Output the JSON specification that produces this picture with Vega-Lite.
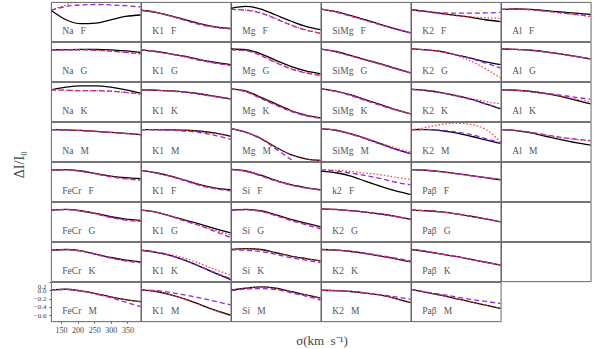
{
  "$schema": "https://vega.github.io/schema/vega-lite/v6.json",
  "background": "white",
  "padding": {"left": 12, "top": 1, "right": 0, "bottom": 0},
  "config": {
    "view": {"stroke": "#555", "strokeWidth": 0.9},
    "font": "Liberation Serif",
    "facet": {"spacing": 0},
    "concat": {"spacing": 0}
  },
  "title": {"text": "ΔI/I₀", "orient": "left", "anchor": "middle", "fontSize": 14, "font": "Liberation Serif", "fontWeight": "normal", "color": "#444", "offset": 6, "dx": 10},
  "spacing": -3,
  "datasets": {
    "d": [
      {"r":1,"c":1,"n":"Na F","x":120,"k":0.0,"u":0.0,"o":0.0},
      {"r":1,"c":1,"n":"Na F","x":165,"k":-0.23,"u":0.09,"o":0.13},
      {"r":1,"c":1,"n":"Na F","x":210,"k":-0.325,"u":0.13,"o":0.26},
      {"r":1,"c":1,"n":"Na F","x":255,"k":-0.31,"u":0.14,"o":0.34},
      {"r":1,"c":1,"n":"Na F","x":300,"k":-0.23,"u":0.13,"o":0.38},
      {"r":1,"c":1,"n":"Na F","x":345,"k":-0.15,"u":0.11,"o":0.38},
      {"r":1,"c":1,"n":"Na F","x":390,"k":-0.115,"u":0.08,"o":0.36},
      {"r":1,"c":2,"n":"K1 F","x":120,"k":0.0,"u":0.0,"o":0.0},
      {"r":1,"c":2,"n":"K1 F","x":165,"k":-0.05,"u":-0.055,"o":-0.05},
      {"r":1,"c":2,"n":"K1 F","x":210,"k":-0.135,"u":-0.145,"o":-0.14},
      {"r":1,"c":2,"n":"K1 F","x":255,"k":-0.235,"u":-0.25,"o":-0.24},
      {"r":1,"c":2,"n":"K1 F","x":300,"k":-0.33,"u":-0.35,"o":-0.34},
      {"r":1,"c":2,"n":"K1 F","x":345,"k":-0.4,"u":-0.415,"o":-0.41},
      {"r":1,"c":2,"n":"K1 F","x":390,"k":-0.44,"u":-0.45,"o":-0.445},
      {"r":1,"c":3,"n":"Mg F","x":120,"k":0.047,"u":0.02,"o":0.02},
      {"r":1,"c":3,"n":"Mg F","x":165,"k":0.095,"u":0.0,"o":0.01},
      {"r":1,"c":3,"n":"Mg F","x":210,"k":0.03,"u":-0.07,"o":-0.06},
      {"r":1,"c":3,"n":"Mg F","x":255,"k":-0.115,"u":-0.21,"o":-0.2},
      {"r":1,"c":3,"n":"Mg F","x":300,"k":-0.26,"u":-0.36,"o":-0.35},
      {"r":1,"c":3,"n":"Mg F","x":345,"k":-0.39,"u":-0.48,"o":-0.47},
      {"r":1,"c":3,"n":"Mg F","x":390,"k":-0.47,"u":-0.56,"o":-0.55},
      {"r":1,"c":4,"n":"SiMg F","x":120,"k":0.03,"u":0.03,"o":0.03},
      {"r":1,"c":4,"n":"SiMg F","x":165,"k":-0.035,"u":-0.045,"o":-0.04},
      {"r":1,"c":4,"n":"SiMg F","x":210,"k":-0.13,"u":-0.145,"o":-0.14},
      {"r":1,"c":4,"n":"SiMg F","x":255,"k":-0.235,"u":-0.25,"o":-0.245},
      {"r":1,"c":4,"n":"SiMg F","x":300,"k":-0.345,"u":-0.355,"o":-0.35},
      {"r":1,"c":4,"n":"SiMg F","x":345,"k":-0.45,"u":-0.46,"o":-0.455},
      {"r":1,"c":4,"n":"SiMg F","x":390,"k":-0.55,"u":-0.55,"o":-0.55},
      {"r":1,"c":5,"n":"K2 F","x":120,"k":0.013,"u":0.01,"o":0.01},
      {"r":1,"c":5,"n":"K2 F","x":165,"k":-0.026,"u":-0.03,"o":-0.04},
      {"r":1,"c":5,"n":"K2 F","x":210,"k":-0.075,"u":-0.06,"o":-0.09},
      {"r":1,"c":5,"n":"K2 F","x":255,"k":-0.125,"u":-0.07,"o":-0.13},
      {"r":1,"c":5,"n":"K2 F","x":300,"k":-0.17,"u":-0.07,"o":-0.16},
      {"r":1,"c":5,"n":"K2 F","x":345,"k":-0.23,"u":-0.065,"o":-0.18},
      {"r":1,"c":5,"n":"K2 F","x":390,"k":-0.277,"u":-0.05,"o":-0.195},
      {"r":1,"c":6,"n":"Al F","x":120,"k":0.02,"u":0.02,"o":0.02},
      {"r":1,"c":6,"n":"Al F","x":165,"k":0.03,"u":0.03,"o":0.03},
      {"r":1,"c":6,"n":"Al F","x":210,"k":0.02,"u":0.01,"o":0.01},
      {"r":1,"c":6,"n":"Al F","x":255,"k":-0.01,"u":-0.02,"o":-0.03},
      {"r":1,"c":6,"n":"Al F","x":300,"k":-0.04,"u":-0.06,"o":-0.07},
      {"r":1,"c":6,"n":"Al F","x":345,"k":-0.07,"u":-0.1,"o":-0.11},
      {"r":1,"c":6,"n":"Al F","x":390,"k":-0.1,"u":-0.14,"o":-0.16},
      {"r":2,"c":1,"n":"Na G","x":120,"k":0.01,"u":0.01,"o":0.01},
      {"r":2,"c":1,"n":"Na G","x":165,"k":0.015,"u":0.01,"o":0.01},
      {"r":2,"c":1,"n":"Na G","x":210,"k":0.02,"u":0.01,"o":0.01},
      {"r":2,"c":1,"n":"Na G","x":255,"k":0.02,"u":0.0,"o":0.0},
      {"r":2,"c":1,"n":"Na G","x":300,"k":0.01,"u":-0.02,"o":-0.025},
      {"r":2,"c":1,"n":"Na G","x":345,"k":-0.015,"u":-0.05,"o":-0.055},
      {"r":2,"c":1,"n":"Na G","x":390,"k":-0.05,"u":-0.085,"o":-0.09},
      {"r":2,"c":2,"n":"K1 G","x":120,"k":0.01,"u":0.01,"o":0.01},
      {"r":2,"c":2,"n":"K1 G","x":165,"k":-0.03,"u":-0.035,"o":-0.03},
      {"r":2,"c":2,"n":"K1 G","x":210,"k":-0.085,"u":-0.095,"o":-0.09},
      {"r":2,"c":2,"n":"K1 G","x":255,"k":-0.15,"u":-0.165,"o":-0.16},
      {"r":2,"c":2,"n":"K1 G","x":300,"k":-0.23,"u":-0.25,"o":-0.24},
      {"r":2,"c":2,"n":"K1 G","x":345,"k":-0.295,"u":-0.315,"o":-0.31},
      {"r":2,"c":2,"n":"K1 G","x":390,"k":-0.35,"u":-0.37,"o":-0.365},
      {"r":2,"c":3,"n":"Mg G","x":120,"k":0.03,"u":0.01,"o":0.01},
      {"r":2,"c":3,"n":"Mg G","x":165,"k":0.012,"u":-0.01,"o":-0.005},
      {"r":2,"c":3,"n":"Mg G","x":210,"k":-0.085,"u":-0.13,"o":-0.12},
      {"r":2,"c":3,"n":"Mg G","x":255,"k":-0.245,"u":-0.3,"o":-0.29},
      {"r":2,"c":3,"n":"Mg G","x":300,"k":-0.39,"u":-0.45,"o":-0.44},
      {"r":2,"c":3,"n":"Mg G","x":345,"k":-0.5,"u":-0.55,"o":-0.54},
      {"r":2,"c":3,"n":"Mg G","x":390,"k":-0.57,"u":-0.61,"o":-0.6},
      {"r":2,"c":4,"n":"SiMg G","x":120,"k":0.03,"u":0.03,"o":0.03},
      {"r":2,"c":4,"n":"SiMg G","x":165,"k":-0.03,"u":-0.04,"o":-0.04},
      {"r":2,"c":4,"n":"SiMg G","x":210,"k":-0.13,"u":-0.14,"o":-0.14},
      {"r":2,"c":4,"n":"SiMg G","x":255,"k":-0.23,"u":-0.24,"o":-0.24},
      {"r":2,"c":4,"n":"SiMg G","x":300,"k":-0.33,"u":-0.34,"o":-0.34},
      {"r":2,"c":4,"n":"SiMg G","x":345,"k":-0.44,"u":-0.45,"o":-0.45},
      {"r":2,"c":4,"n":"SiMg G","x":390,"k":-0.55,"u":-0.55,"o":-0.55},
      {"r":2,"c":5,"n":"K2 G","x":120,"k":0.036,"u":0.03,"o":0.03},
      {"r":2,"c":5,"n":"K2 G","x":165,"k":0.012,"u":0.01,"o":0.01},
      {"r":2,"c":5,"n":"K2 G","x":210,"k":-0.03,"u":-0.03,"o":-0.03},
      {"r":2,"c":5,"n":"K2 G","x":255,"k":-0.11,"u":-0.11,"o":-0.12},
      {"r":2,"c":5,"n":"K2 G","x":300,"k":-0.19,"u":-0.2,"o":-0.26},
      {"r":2,"c":5,"n":"K2 G","x":345,"k":-0.28,"u":-0.31,"o":-0.45},
      {"r":2,"c":5,"n":"K2 G","x":390,"k":-0.35,"u":-0.43,"o":-0.67},
      {"r":2,"c":6,"n":"Al G","x":120,"k":0.03,"u":0.03,"o":0.03},
      {"r":2,"c":6,"n":"Al G","x":165,"k":0.02,"u":0.02,"o":0.02},
      {"r":2,"c":6,"n":"Al G","x":210,"k":0.0,"u":0.0,"o":0.0},
      {"r":2,"c":6,"n":"Al G","x":255,"k":-0.04,"u":-0.045,"o":-0.04},
      {"r":2,"c":6,"n":"Al G","x":300,"k":-0.09,"u":-0.095,"o":-0.09},
      {"r":2,"c":6,"n":"Al G","x":345,"k":-0.15,"u":-0.15,"o":-0.15},
      {"r":2,"c":6,"n":"Al G","x":390,"k":-0.21,"u":-0.21,"o":-0.215},
      {"r":3,"c":1,"n":"Na K","x":120,"k":0.01,"u":0.01,"o":0.01},
      {"r":3,"c":1,"n":"Na K","x":165,"k":0.075,"u":0.0,"o":0.0},
      {"r":3,"c":1,"n":"Na K","x":210,"k":0.107,"u":-0.01,"o":-0.01},
      {"r":3,"c":1,"n":"Na K","x":255,"k":0.107,"u":-0.01,"o":-0.015},
      {"r":3,"c":1,"n":"Na K","x":300,"k":0.075,"u":-0.02,"o":-0.025},
      {"r":3,"c":1,"n":"Na K","x":345,"k":0.01,"u":-0.05,"o":-0.055},
      {"r":3,"c":1,"n":"Na K","x":390,"k":-0.07,"u":-0.09,"o":-0.095},
      {"r":3,"c":2,"n":"K1 K","x":120,"k":0.01,"u":0.01,"o":0.01},
      {"r":3,"c":2,"n":"K1 K","x":165,"k":0.0,"u":0.0,"o":0.0},
      {"r":3,"c":2,"n":"K1 K","x":210,"k":-0.015,"u":-0.02,"o":-0.015},
      {"r":3,"c":2,"n":"K1 K","x":255,"k":-0.045,"u":-0.05,"o":-0.045},
      {"r":3,"c":2,"n":"K1 K","x":300,"k":-0.09,"u":-0.1,"o":-0.09},
      {"r":3,"c":2,"n":"K1 K","x":345,"k":-0.15,"u":-0.16,"o":-0.15},
      {"r":3,"c":2,"n":"K1 K","x":390,"k":-0.21,"u":-0.215,"o":-0.21},
      {"r":3,"c":3,"n":"Mg K","x":120,"k":0.035,"u":0.035,"o":0.035},
      {"r":3,"c":3,"n":"Mg K","x":165,"k":-0.02,"u":-0.04,"o":-0.03},
      {"r":3,"c":3,"n":"Mg K","x":210,"k":-0.17,"u":-0.2,"o":-0.19},
      {"r":3,"c":3,"n":"Mg K","x":255,"k":-0.33,"u":-0.36,"o":-0.35},
      {"r":3,"c":3,"n":"Mg K","x":300,"k":-0.49,"u":-0.51,"o":-0.5},
      {"r":3,"c":3,"n":"Mg K","x":345,"k":-0.6,"u":-0.62,"o":-0.61},
      {"r":3,"c":3,"n":"Mg K","x":390,"k":-0.67,"u":-0.68,"o":-0.675},
      {"r":3,"c":4,"n":"SiMg K","x":120,"k":0.035,"u":0.03,"o":0.03},
      {"r":3,"c":4,"n":"SiMg K","x":165,"k":-0.02,"u":-0.03,"o":-0.03},
      {"r":3,"c":4,"n":"SiMg K","x":210,"k":-0.11,"u":-0.13,"o":-0.12},
      {"r":3,"c":4,"n":"SiMg K","x":255,"k":-0.23,"u":-0.25,"o":-0.24},
      {"r":3,"c":4,"n":"SiMg K","x":300,"k":-0.35,"u":-0.37,"o":-0.36},
      {"r":3,"c":4,"n":"SiMg K","x":345,"k":-0.47,"u":-0.48,"o":-0.475},
      {"r":3,"c":4,"n":"SiMg K","x":390,"k":-0.57,"u":-0.57,"o":-0.57},
      {"r":3,"c":5,"n":"K2 K","x":120,"k":0.027,"u":0.02,"o":0.027},
      {"r":3,"c":5,"n":"K2 K","x":165,"k":-0.006,"u":-0.01,"o":0.0},
      {"r":3,"c":5,"n":"K2 K","x":210,"k":-0.055,"u":-0.06,"o":-0.05},
      {"r":3,"c":5,"n":"K2 K","x":255,"k":-0.13,"u":-0.14,"o":-0.12},
      {"r":3,"c":5,"n":"K2 K","x":300,"k":-0.215,"u":-0.22,"o":-0.2},
      {"r":3,"c":5,"n":"K2 K","x":345,"k":-0.33,"u":-0.33,"o":-0.27},
      {"r":3,"c":5,"n":"K2 K","x":390,"k":-0.45,"u":-0.44,"o":-0.33},
      {"r":3,"c":6,"n":"Al K","x":120,"k":0.01,"u":0.01,"o":0.01},
      {"r":3,"c":6,"n":"Al K","x":165,"k":0.0,"u":0.0,"o":0.0},
      {"r":3,"c":6,"n":"Al K","x":210,"k":-0.03,"u":-0.03,"o":-0.03},
      {"r":3,"c":6,"n":"Al K","x":255,"k":-0.08,"u":-0.07,"o":-0.08},
      {"r":3,"c":6,"n":"Al K","x":300,"k":-0.15,"u":-0.12,"o":-0.14},
      {"r":3,"c":6,"n":"Al K","x":345,"k":-0.24,"u":-0.17,"o":-0.21},
      {"r":3,"c":6,"n":"Al K","x":390,"k":-0.33,"u":-0.22,"o":-0.28},
      {"r":4,"c":1,"n":"Na M","x":120,"k":0.015,"u":0.015,"o":0.015},
      {"r":4,"c":1,"n":"Na M","x":165,"k":0.01,"u":0.005,"o":0.01},
      {"r":4,"c":1,"n":"Na M","x":210,"k":-0.005,"u":-0.01,"o":-0.005},
      {"r":4,"c":1,"n":"Na M","x":255,"k":-0.025,"u":-0.03,"o":-0.025},
      {"r":4,"c":1,"n":"Na M","x":300,"k":-0.05,"u":-0.055,"o":-0.05},
      {"r":4,"c":1,"n":"Na M","x":345,"k":-0.075,"u":-0.08,"o":-0.075},
      {"r":4,"c":1,"n":"Na M","x":390,"k":-0.105,"u":-0.11,"o":-0.105},
      {"r":4,"c":2,"n":"K1 M","x":120,"k":0.016,"u":0.016,"o":0.016},
      {"r":4,"c":2,"n":"K1 M","x":165,"k":0.016,"u":0.01,"o":0.016},
      {"r":4,"c":2,"n":"K1 M","x":210,"k":0.01,"u":0.0,"o":0.01},
      {"r":4,"c":2,"n":"K1 M","x":255,"k":0.0,"u":-0.02,"o":0.0},
      {"r":4,"c":2,"n":"K1 M","x":300,"k":-0.024,"u":-0.06,"o":-0.03},
      {"r":4,"c":2,"n":"K1 M","x":345,"k":-0.07,"u":-0.13,"o":-0.08},
      {"r":4,"c":2,"n":"K1 M","x":390,"k":-0.145,"u":-0.22,"o":-0.15},
      {"r":4,"c":3,"n":"Mg M","x":120,"k":0.04,"u":0.04,"o":0.04},
      {"r":4,"c":3,"n":"Mg M","x":165,"k":-0.048,"u":-0.05,"o":-0.045},
      {"r":4,"c":3,"n":"Mg M","x":210,"k":-0.2,"u":-0.21,"o":-0.2},
      {"r":4,"c":3,"n":"Mg M","x":255,"k":-0.41,"u":-0.45,"o":-0.41},
      {"r":4,"c":3,"n":"Mg M","x":300,"k":-0.59,"u":-0.7,"o":-0.59},
      {"r":4,"c":3,"n":"Mg M","x":345,"k":-0.69,"u":-0.88,"o":-0.69},
      {"r":4,"c":3,"n":"Mg M","x":390,"k":-0.73,"u":-1.0,"o":-0.73},
      {"r":4,"c":4,"n":"SiMg M","x":120,"k":0.04,"u":0.04,"o":0.04},
      {"r":4,"c":4,"n":"SiMg M","x":165,"k":0.0,"u":-0.005,"o":0.005},
      {"r":4,"c":4,"n":"SiMg M","x":210,"k":-0.09,"u":-0.095,"o":-0.08},
      {"r":4,"c":4,"n":"SiMg M","x":255,"k":-0.2,"u":-0.21,"o":-0.19},
      {"r":4,"c":4,"n":"SiMg M","x":300,"k":-0.33,"u":-0.34,"o":-0.31},
      {"r":4,"c":4,"n":"SiMg M","x":345,"k":-0.455,"u":-0.46,"o":-0.43},
      {"r":4,"c":4,"n":"SiMg M","x":390,"k":-0.565,"u":-0.565,"o":-0.53},
      {"r":4,"c":5,"n":"K2 M","x":120,"k":0.016,"u":0.016,"o":0.0},
      {"r":4,"c":5,"n":"K2 M","x":165,"k":0.016,"u":0.02,"o":0.07},
      {"r":4,"c":5,"n":"K2 M","x":210,"k":-0.007,"u":0.0,"o":0.14},
      {"r":4,"c":5,"n":"K2 M","x":255,"k":-0.065,"u":-0.04,"o":0.17},
      {"r":4,"c":5,"n":"K2 M","x":300,"k":-0.145,"u":-0.1,"o":0.14},
      {"r":4,"c":5,"n":"K2 M","x":345,"k":-0.234,"u":-0.2,"o":0.02},
      {"r":4,"c":5,"n":"K2 M","x":390,"k":-0.32,"u":-0.31,"o":-0.28},
      {"r":4,"c":6,"n":"Al M","x":120,"k":0.016,"u":0.016,"o":0.016},
      {"r":4,"c":6,"n":"Al M","x":165,"k":-0.007,"u":-0.005,"o":-0.005},
      {"r":4,"c":6,"n":"Al M","x":210,"k":-0.065,"u":-0.05,"o":-0.055},
      {"r":4,"c":6,"n":"Al M","x":255,"k":-0.145,"u":-0.11,"o":-0.12},
      {"r":4,"c":6,"n":"Al M","x":300,"k":-0.225,"u":-0.17,"o":-0.18},
      {"r":4,"c":6,"n":"Al M","x":345,"k":-0.3,"u":-0.215,"o":-0.225},
      {"r":4,"c":6,"n":"Al M","x":390,"k":-0.36,"u":-0.25,"o":-0.26},
      {"r":5,"c":1,"n":"FeCr F","x":120,"k":0.0,"u":0.0,"o":0.0},
      {"r":5,"c":1,"n":"FeCr F","x":165,"k":0.015,"u":0.01,"o":0.01},
      {"r":5,"c":1,"n":"FeCr F","x":210,"k":-0.018,"u":-0.025,"o":-0.02},
      {"r":5,"c":1,"n":"FeCr F","x":255,"k":-0.08,"u":-0.09,"o":-0.085},
      {"r":5,"c":1,"n":"FeCr F","x":300,"k":-0.14,"u":-0.16,"o":-0.15},
      {"r":5,"c":1,"n":"FeCr F","x":345,"k":-0.18,"u":-0.21,"o":-0.2},
      {"r":5,"c":1,"n":"FeCr F","x":390,"k":-0.2,"u":-0.24,"o":-0.23},
      {"r":5,"c":2,"n":"K1 F","x":120,"k":0.0,"u":0.0,"o":0.0},
      {"r":5,"c":2,"n":"K1 F","x":165,"k":-0.06,"u":-0.065,"o":-0.06},
      {"r":5,"c":2,"n":"K1 F","x":210,"k":-0.14,"u":-0.15,"o":-0.145},
      {"r":5,"c":2,"n":"K1 F","x":255,"k":-0.245,"u":-0.26,"o":-0.25},
      {"r":5,"c":2,"n":"K1 F","x":300,"k":-0.355,"u":-0.375,"o":-0.365},
      {"r":5,"c":2,"n":"K1 F","x":345,"k":-0.43,"u":-0.45,"o":-0.44},
      {"r":5,"c":2,"n":"K1 F","x":390,"k":-0.47,"u":-0.5,"o":-0.49},
      {"r":5,"c":3,"n":"Si F","x":120,"k":0.02,"u":0.015,"o":0.02},
      {"r":5,"c":3,"n":"Si F","x":165,"k":-0.018,"u":-0.03,"o":-0.02},
      {"r":5,"c":3,"n":"Si F","x":210,"k":-0.12,"u":-0.14,"o":-0.125},
      {"r":5,"c":3,"n":"Si F","x":255,"k":-0.245,"u":-0.26,"o":-0.25},
      {"r":5,"c":3,"n":"Si F","x":300,"k":-0.35,"u":-0.36,"o":-0.355},
      {"r":5,"c":3,"n":"Si F","x":345,"k":-0.42,"u":-0.43,"o":-0.425},
      {"r":5,"c":3,"n":"Si F","x":390,"k":-0.47,"u":-0.48,"o":-0.475},
      {"r":5,"c":4,"n":"k2 F","x":120,"k":-0.02,"u":0.01,"o":0.02},
      {"r":5,"c":4,"n":"k2 F","x":165,"k":-0.06,"u":-0.02,"o":0.0},
      {"r":5,"c":4,"n":"k2 F","x":210,"k":-0.14,"u":-0.07,"o":-0.03},
      {"r":5,"c":4,"n":"k2 F","x":255,"k":-0.27,"u":-0.13,"o":-0.07},
      {"r":5,"c":4,"n":"k2 F","x":300,"k":-0.39,"u":-0.2,"o":-0.11},
      {"r":5,"c":4,"n":"k2 F","x":345,"k":-0.5,"u":-0.29,"o":-0.17},
      {"r":5,"c":4,"n":"k2 F","x":390,"k":-0.59,"u":-0.35,"o":-0.22},
      {"r":5,"c":5,"n":"Paβ F","x":120,"k":0.015,"u":0.015,"o":0.015},
      {"r":5,"c":5,"n":"Paβ F","x":165,"k":0.0,"u":0.0,"o":0.0},
      {"r":5,"c":5,"n":"Paβ F","x":210,"k":-0.035,"u":-0.035,"o":-0.035},
      {"r":5,"c":5,"n":"Paβ F","x":255,"k":-0.08,"u":-0.08,"o":-0.08},
      {"r":5,"c":5,"n":"Paβ F","x":300,"k":-0.13,"u":-0.13,"o":-0.13},
      {"r":5,"c":5,"n":"Paβ F","x":345,"k":-0.18,"u":-0.18,"o":-0.18},
      {"r":5,"c":5,"n":"Paβ F","x":390,"k":-0.23,"u":-0.23,"o":-0.23},
      {"r":6,"c":1,"n":"FeCr G","x":120,"k":0.005,"u":0.005,"o":0.005},
      {"r":6,"c":1,"n":"FeCr G","x":165,"k":0.02,"u":0.015,"o":0.015},
      {"r":6,"c":1,"n":"FeCr G","x":210,"k":-0.012,"u":-0.02,"o":-0.015},
      {"r":6,"c":1,"n":"FeCr G","x":255,"k":-0.077,"u":-0.09,"o":-0.085},
      {"r":6,"c":1,"n":"FeCr G","x":300,"k":-0.157,"u":-0.175,"o":-0.17},
      {"r":6,"c":1,"n":"FeCr G","x":345,"k":-0.214,"u":-0.24,"o":-0.23},
      {"r":6,"c":1,"n":"FeCr G","x":390,"k":-0.245,"u":-0.27,"o":-0.26},
      {"r":6,"c":2,"n":"K1 G","x":120,"k":0.005,"u":0.005,"o":0.005},
      {"r":6,"c":2,"n":"K1 G","x":165,"k":-0.044,"u":-0.045,"o":-0.045},
      {"r":6,"c":2,"n":"K1 G","x":210,"k":-0.14,"u":-0.15,"o":-0.14},
      {"r":6,"c":2,"n":"K1 G","x":255,"k":-0.245,"u":-0.27,"o":-0.26},
      {"r":6,"c":2,"n":"K1 G","x":300,"k":-0.34,"u":-0.38,"o":-0.37},
      {"r":6,"c":2,"n":"K1 G","x":345,"k":-0.45,"u":-0.52,"o":-0.49},
      {"r":6,"c":2,"n":"K1 G","x":390,"k":-0.545,"u":-0.66,"o":-0.6},
      {"r":6,"c":3,"n":"Si G","x":120,"k":0.005,"u":0.0,"o":0.005},
      {"r":6,"c":3,"n":"Si G","x":165,"k":0.02,"u":0.01,"o":0.015},
      {"r":6,"c":3,"n":"Si G","x":210,"k":-0.012,"u":-0.03,"o":-0.02},
      {"r":6,"c":3,"n":"Si G","x":255,"k":-0.11,"u":-0.13,"o":-0.12},
      {"r":6,"c":3,"n":"Si G","x":300,"k":-0.22,"u":-0.25,"o":-0.235},
      {"r":6,"c":3,"n":"Si G","x":345,"k":-0.31,"u":-0.35,"o":-0.33},
      {"r":6,"c":3,"n":"Si G","x":390,"k":-0.4,"u":-0.45,"o":-0.42},
      {"r":6,"c":4,"n":"K2 G","x":120,"k":0.036,"u":0.03,"o":0.035},
      {"r":6,"c":4,"n":"K2 G","x":165,"k":0.02,"u":0.015,"o":0.02},
      {"r":6,"c":4,"n":"K2 G","x":210,"k":-0.01,"u":-0.015,"o":-0.01},
      {"r":6,"c":4,"n":"K2 G","x":255,"k":-0.044,"u":-0.05,"o":-0.045},
      {"r":6,"c":4,"n":"K2 G","x":300,"k":-0.09,"u":-0.1,"o":-0.09},
      {"r":6,"c":4,"n":"K2 G","x":345,"k":-0.15,"u":-0.155,"o":-0.15},
      {"r":6,"c":4,"n":"K2 G","x":390,"k":-0.22,"u":-0.21,"o":-0.22},
      {"r":6,"c":5,"n":"Paβ G","x":120,"k":0.005,"u":0.005,"o":0.005},
      {"r":6,"c":5,"n":"Paβ G","x":165,"k":-0.012,"u":-0.012,"o":-0.012},
      {"r":6,"c":5,"n":"Paβ G","x":210,"k":-0.04,"u":-0.04,"o":-0.04},
      {"r":6,"c":5,"n":"Paβ G","x":255,"k":-0.085,"u":-0.085,"o":-0.085},
      {"r":6,"c":5,"n":"Paβ G","x":300,"k":-0.145,"u":-0.145,"o":-0.145},
      {"r":6,"c":5,"n":"Paβ G","x":345,"k":-0.21,"u":-0.21,"o":-0.21},
      {"r":6,"c":5,"n":"Paβ G","x":390,"k":-0.28,"u":-0.28,"o":-0.28},
      {"r":7,"c":1,"n":"FeCr K","x":120,"k":0.0,"u":0.0,"o":0.0},
      {"r":7,"c":1,"n":"FeCr K","x":165,"k":0.018,"u":0.015,"o":0.015},
      {"r":7,"c":1,"n":"FeCr K","x":210,"k":-0.013,"u":-0.02,"o":-0.015},
      {"r":7,"c":1,"n":"FeCr K","x":255,"k":-0.095,"u":-0.1,"o":-0.1},
      {"r":7,"c":1,"n":"FeCr K","x":300,"k":-0.175,"u":-0.19,"o":-0.18},
      {"r":7,"c":1,"n":"FeCr K","x":345,"k":-0.24,"u":-0.26,"o":-0.25},
      {"r":7,"c":1,"n":"FeCr K","x":390,"k":-0.28,"u":-0.3,"o":-0.29},
      {"r":7,"c":2,"n":"K1 K","x":120,"k":0.0,"u":0.0,"o":0.0},
      {"r":7,"c":2,"n":"K1 K","x":165,"k":-0.05,"u":-0.05,"o":-0.04},
      {"r":7,"c":2,"n":"K1 K","x":210,"k":-0.13,"u":-0.13,"o":-0.11},
      {"r":7,"c":2,"n":"K1 K","x":255,"k":-0.25,"u":-0.25,"o":-0.2},
      {"r":7,"c":2,"n":"K1 K","x":300,"k":-0.4,"u":-0.4,"o":-0.33},
      {"r":7,"c":2,"n":"K1 K","x":345,"k":-0.56,"u":-0.55,"o":-0.47},
      {"r":7,"c":2,"n":"K1 K","x":390,"k":-0.71,"u":-0.69,"o":-0.6},
      {"r":7,"c":3,"n":"Si K","x":120,"k":0.018,"u":0.01,"o":0.018},
      {"r":7,"c":3,"n":"Si K","x":165,"k":0.04,"u":0.0,"o":0.035},
      {"r":7,"c":3,"n":"Si K","x":210,"k":0.018,"u":-0.03,"o":0.01},
      {"r":7,"c":3,"n":"Si K","x":255,"k":-0.06,"u":-0.1,"o":-0.065},
      {"r":7,"c":3,"n":"Si K","x":300,"k":-0.14,"u":-0.18,"o":-0.145},
      {"r":7,"c":3,"n":"Si K","x":345,"k":-0.2,"u":-0.24,"o":-0.205},
      {"r":7,"c":3,"n":"Si K","x":390,"k":-0.255,"u":-0.3,"o":-0.26},
      {"r":7,"c":4,"n":"K2 K","x":120,"k":0.018,"u":0.018,"o":0.018},
      {"r":7,"c":4,"n":"K2 K","x":165,"k":0.005,"u":0.005,"o":0.005},
      {"r":7,"c":4,"n":"K2 K","x":210,"k":-0.03,"u":-0.025,"o":-0.03},
      {"r":7,"c":4,"n":"K2 K","x":255,"k":-0.08,"u":-0.07,"o":-0.08},
      {"r":7,"c":4,"n":"K2 K","x":300,"k":-0.14,"u":-0.13,"o":-0.14},
      {"r":7,"c":4,"n":"K2 K","x":345,"k":-0.21,"u":-0.19,"o":-0.21},
      {"r":7,"c":4,"n":"K2 K","x":390,"k":-0.28,"u":-0.26,"o":-0.28},
      {"r":7,"c":5,"n":"Paβ K","x":120,"k":0.018,"u":0.018,"o":0.018},
      {"r":7,"c":5,"n":"Paβ K","x":165,"k":-0.03,"u":-0.03,"o":-0.03},
      {"r":7,"c":5,"n":"Paβ K","x":210,"k":-0.09,"u":-0.09,"o":-0.09},
      {"r":7,"c":5,"n":"Paβ K","x":255,"k":-0.15,"u":-0.15,"o":-0.15},
      {"r":7,"c":5,"n":"Paβ K","x":300,"k":-0.22,"u":-0.22,"o":-0.22},
      {"r":7,"c":5,"n":"Paβ K","x":345,"k":-0.29,"u":-0.29,"o":-0.29},
      {"r":7,"c":5,"n":"Paβ K","x":390,"k":-0.36,"u":-0.36,"o":-0.36},
      {"r":8,"c":1,"n":"FeCr M","x":120,"k":0.008,"u":0.008,"o":0.008},
      {"r":8,"c":1,"n":"FeCr M","x":165,"k":0.024,"u":0.02,"o":0.02},
      {"r":8,"c":1,"n":"FeCr M","x":210,"k":-0.016,"u":-0.02,"o":-0.016},
      {"r":8,"c":1,"n":"FeCr M","x":255,"k":-0.08,"u":-0.09,"o":-0.085},
      {"r":8,"c":1,"n":"FeCr M","x":300,"k":-0.16,"u":-0.18,"o":-0.165},
      {"r":8,"c":1,"n":"FeCr M","x":345,"k":-0.225,"u":-0.29,"o":-0.23},
      {"r":8,"c":1,"n":"FeCr M","x":390,"k":-0.275,"u":-0.395,"o":-0.28},
      {"r":8,"c":2,"n":"K1 M","x":120,"k":0.01,"u":0.01,"o":0.01},
      {"r":8,"c":2,"n":"K1 M","x":165,"k":-0.03,"u":-0.01,"o":-0.03},
      {"r":8,"c":2,"n":"K1 M","x":210,"k":-0.11,"u":-0.055,"o":-0.11},
      {"r":8,"c":2,"n":"K1 M","x":255,"k":-0.22,"u":-0.12,"o":-0.225},
      {"r":8,"c":2,"n":"K1 M","x":300,"k":-0.355,"u":-0.19,"o":-0.36},
      {"r":8,"c":2,"n":"K1 M","x":345,"k":-0.485,"u":-0.27,"o":-0.495},
      {"r":8,"c":2,"n":"K1 M","x":390,"k":-0.6,"u":-0.355,"o":-0.62},
      {"r":8,"c":3,"n":"Si M","x":120,"k":0.0,"u":-0.01,"o":0.0},
      {"r":8,"c":3,"n":"Si M","x":165,"k":0.049,"u":0.03,"o":0.045},
      {"r":8,"c":3,"n":"Si M","x":210,"k":0.08,"u":0.04,"o":0.075},
      {"r":8,"c":3,"n":"Si M","x":255,"k":0.049,"u":0.02,"o":0.045},
      {"r":8,"c":3,"n":"Si M","x":300,"k":-0.03,"u":-0.06,"o":-0.035},
      {"r":8,"c":3,"n":"Si M","x":345,"k":-0.11,"u":-0.14,"o":-0.115},
      {"r":8,"c":3,"n":"Si M","x":390,"k":-0.19,"u":-0.24,"o":-0.195},
      {"r":8,"c":4,"n":"K2 M","x":120,"k":0.0,"u":0.0,"o":0.0},
      {"r":8,"c":4,"n":"K2 M","x":165,"k":-0.01,"u":-0.01,"o":-0.01},
      {"r":8,"c":4,"n":"K2 M","x":210,"k":-0.03,"u":-0.03,"o":-0.03},
      {"r":8,"c":4,"n":"K2 M","x":255,"k":-0.07,"u":-0.07,"o":-0.07},
      {"r":8,"c":4,"n":"K2 M","x":300,"k":-0.12,"u":-0.11,"o":-0.12},
      {"r":8,"c":4,"n":"K2 M","x":345,"k":-0.2,"u":-0.16,"o":-0.2},
      {"r":8,"c":4,"n":"K2 M","x":390,"k":-0.3,"u":-0.22,"o":-0.3},
      {"r":8,"c":5,"n":"Paβ M","x":120,"k":0.024,"u":0.024,"o":0.024},
      {"r":8,"c":5,"n":"Paβ M","x":165,"k":-0.05,"u":-0.04,"o":-0.05},
      {"r":8,"c":5,"n":"Paβ M","x":210,"k":-0.12,"u":-0.1,"o":-0.12},
      {"r":8,"c":5,"n":"Paβ M","x":255,"k":-0.2,"u":-0.16,"o":-0.2},
      {"r":8,"c":5,"n":"Paβ M","x":300,"k":-0.28,"u":-0.22,"o":-0.28},
      {"r":8,"c":5,"n":"Paβ M","x":345,"k":-0.36,"u":-0.27,"o":-0.36},
      {"r":8,"c":5,"n":"Paβ M","x":390,"k":-0.44,"u":-0.32,"o":-0.44}
    ]
  },
  "vconcat": [
    {
      "data": {"name": "d"},
      "transform": [{"filter": "datum.r <= 7"}],
      "facet": {
        "row": {"field": "r", "type": "ordinal", "header": null},
        "column": {"field": "c", "type": "ordinal", "header": null}
      },
      "spacing": 0,
      "bounds": "flush",
      "spec": {
        "width": 89.67,
        "height": 39.25,
        "encoding": {"x": {"field": "x", "type": "quantitative", "scale": {"domain": [120, 390], "nice": false, "zero": false}, "axis": null}},
        "layer": [
          {"mark": {"type": "line", "color": "#000", "strokeWidth": 1.3, "interpolate": "monotone", "clip": true},
           "encoding": {"y": {"field": "k", "type": "quantitative", "scale": {"domain": [-0.75, 0.2], "nice": false, "zero": false}, "axis": null}}},
          {"mark": {"type": "line", "color": "#8a2be2", "strokeWidth": 1.3, "strokeDash": [5, 3], "interpolate": "monotone", "clip": true},
           "encoding": {"y": {"field": "u", "type": "quantitative", "scale": {"domain": [-0.75, 0.2], "nice": false, "zero": false}, "axis": null}}},
          {"mark": {"type": "line", "color": "#ff3030", "strokeWidth": 1.2, "strokeDash": [1.5, 2], "interpolate": "monotone", "clip": true},
           "encoding": {"y": {"field": "o", "type": "quantitative", "scale": {"domain": [-0.75, 0.2], "nice": false, "zero": false}, "axis": null}}},
          {"transform": [{"filter": "datum.x == 120"}, {"calculate": "replace(datum.n, ' ', '\u00a0\u00a0\u00a0')", "as": "lab"}],
           "mark": {"type": "text", "align": "left", "baseline": "alphabetic", "fontSize": 9.5, "color": "#555", "font": "Liberation Serif"},
           "encoding": {"x": {"datum": 154}, "y": {"datum": -0.58}, "text": {"field": "lab"}}}
        ]
      }
    },
    {
      "title": {"text": "σ(km\u00a0\u00a0s⁻¹)", "orient": "bottom", "anchor": "middle", "fontSize": 13, "font": "Liberation Serif", "fontWeight": "normal", "color": "#444", "offset": 0, "dx": 55},
      "spacing": 0,
      "bounds": "flush",
      "hconcat": [
        {
          "data": {"name": "d"},
          "transform": [{"filter": "datum.r == 8 && datum.c == 1"}],
          "width": 89.67,
          "height": 39.25,
          "encoding": {"x": {"field": "x", "type": "quantitative", "title": null, "scale": {"domain": [120, 390], "nice": false, "zero": false},
            "axis": {"values": [150, 200, 250, 300, 350], "domain": false, "grid": false, "tickSize": 2, "tickColor": "#666", "labelFontSize": 8, "labelColor": "#444", "labelFont": "Liberation Serif", "labelPadding": 3, "labelOverlap": false, "labelFlush": false}}},
          "layer": [
            {"mark": {"type": "line", "color": "#000", "strokeWidth": 1.3, "interpolate": "monotone", "clip": true},
             "encoding": {"y": {"field": "k", "type": "quantitative", "title": null, "scale": {"domain": [-0.75, 0.2], "nice": false, "zero": false},
               "axis": {"values": [0.2, 0, -0.2, -0.4, -0.6], "format": ".1f", "domain": false, "grid": false, "tickSize": 2, "tickColor": "#666", "labelFontSize": 7, "labelColor": "#444", "labelFont": "Liberation Serif", "labelPadding": 3, "labelOverlap": false, "labelFlush": true, "labelBound": false}}}},
            {"mark": {"type": "line", "color": "#8a2be2", "strokeWidth": 1.3, "strokeDash": [5, 3], "interpolate": "monotone", "clip": true},
             "encoding": {"y": {"field": "u", "type": "quantitative", "title": null, "scale": {"domain": [-0.75, 0.2], "nice": false, "zero": false},
               "axis": {"values": [0.2, 0, -0.2, -0.4, -0.6], "format": ".1f", "domain": false, "grid": false, "tickSize": 2, "tickColor": "#666", "labelFontSize": 7, "labelColor": "#444", "labelFont": "Liberation Serif", "labelPadding": 3, "labelOverlap": false, "labelFlush": true, "labelBound": false}}}},
            {"mark": {"type": "line", "color": "#ff3030", "strokeWidth": 1.2, "strokeDash": [1.5, 2], "interpolate": "monotone", "clip": true},
             "encoding": {"y": {"field": "o", "type": "quantitative", "title": null, "scale": {"domain": [-0.75, 0.2], "nice": false, "zero": false},
               "axis": {"values": [0.2, 0, -0.2, -0.4, -0.6], "format": ".1f", "domain": false, "grid": false, "tickSize": 2, "tickColor": "#666", "labelFontSize": 7, "labelColor": "#444", "labelFont": "Liberation Serif", "labelPadding": 3, "labelOverlap": false, "labelFlush": true, "labelBound": false}}}},
            {"transform": [{"filter": "datum.x == 120"}, {"calculate": "replace(datum.n, ' ', '\u00a0\u00a0\u00a0')", "as": "lab"}],
             "mark": {"type": "text", "align": "left", "baseline": "alphabetic", "fontSize": 9.5, "color": "#555", "font": "Liberation Serif"},
             "encoding": {"x": {"datum": 154}, "y": {"datum": -0.58, "title": null,
               "axis": {"values": [0.2, 0, -0.2, -0.4, -0.6], "format": ".1f", "domain": false, "grid": false, "tickSize": 2, "tickColor": "#666", "labelFontSize": 7, "labelColor": "#444", "labelFont": "Liberation Serif", "labelPadding": 3, "labelOverlap": false, "labelFlush": true, "labelBound": false}}, "text": {"field": "lab"}}}
          ]
        },
        {
          "data": {"name": "d"},
          "transform": [{"filter": "datum.r == 8 && datum.c >= 2"}],
          "facet": {"column": {"field": "c", "type": "ordinal", "header": null}},
          "spacing": 0,
          "bounds": "flush",
          "spec": {
            "width": 89.67,
            "height": 39.25,
            "encoding": {"x": {"field": "x", "type": "quantitative", "scale": {"domain": [120, 390], "nice": false, "zero": false}, "axis": null}},
            "layer": [
              {"mark": {"type": "line", "color": "#000", "strokeWidth": 1.3, "interpolate": "monotone", "clip": true},
               "encoding": {"y": {"field": "k", "type": "quantitative", "scale": {"domain": [-0.75, 0.2], "nice": false, "zero": false}, "axis": null}}},
              {"mark": {"type": "line", "color": "#8a2be2", "strokeWidth": 1.3, "strokeDash": [5, 3], "interpolate": "monotone", "clip": true},
               "encoding": {"y": {"field": "u", "type": "quantitative", "scale": {"domain": [-0.75, 0.2], "nice": false, "zero": false}, "axis": null}}},
              {"mark": {"type": "line", "color": "#ff3030", "strokeWidth": 1.2, "strokeDash": [1.5, 2], "interpolate": "monotone", "clip": true},
               "encoding": {"y": {"field": "o", "type": "quantitative", "scale": {"domain": [-0.75, 0.2], "nice": false, "zero": false}, "axis": null}}},
              {"transform": [{"filter": "datum.x == 120"}, {"calculate": "replace(datum.n, ' ', '\u00a0\u00a0\u00a0')", "as": "lab"}],
               "mark": {"type": "text", "align": "left", "baseline": "alphabetic", "fontSize": 9.5, "color": "#555", "font": "Liberation Serif"},
               "encoding": {"x": {"datum": 154}, "y": {"datum": -0.58}, "text": {"field": "lab"}}}
            ]
          }
        }
      ]
    }
  ]
}
